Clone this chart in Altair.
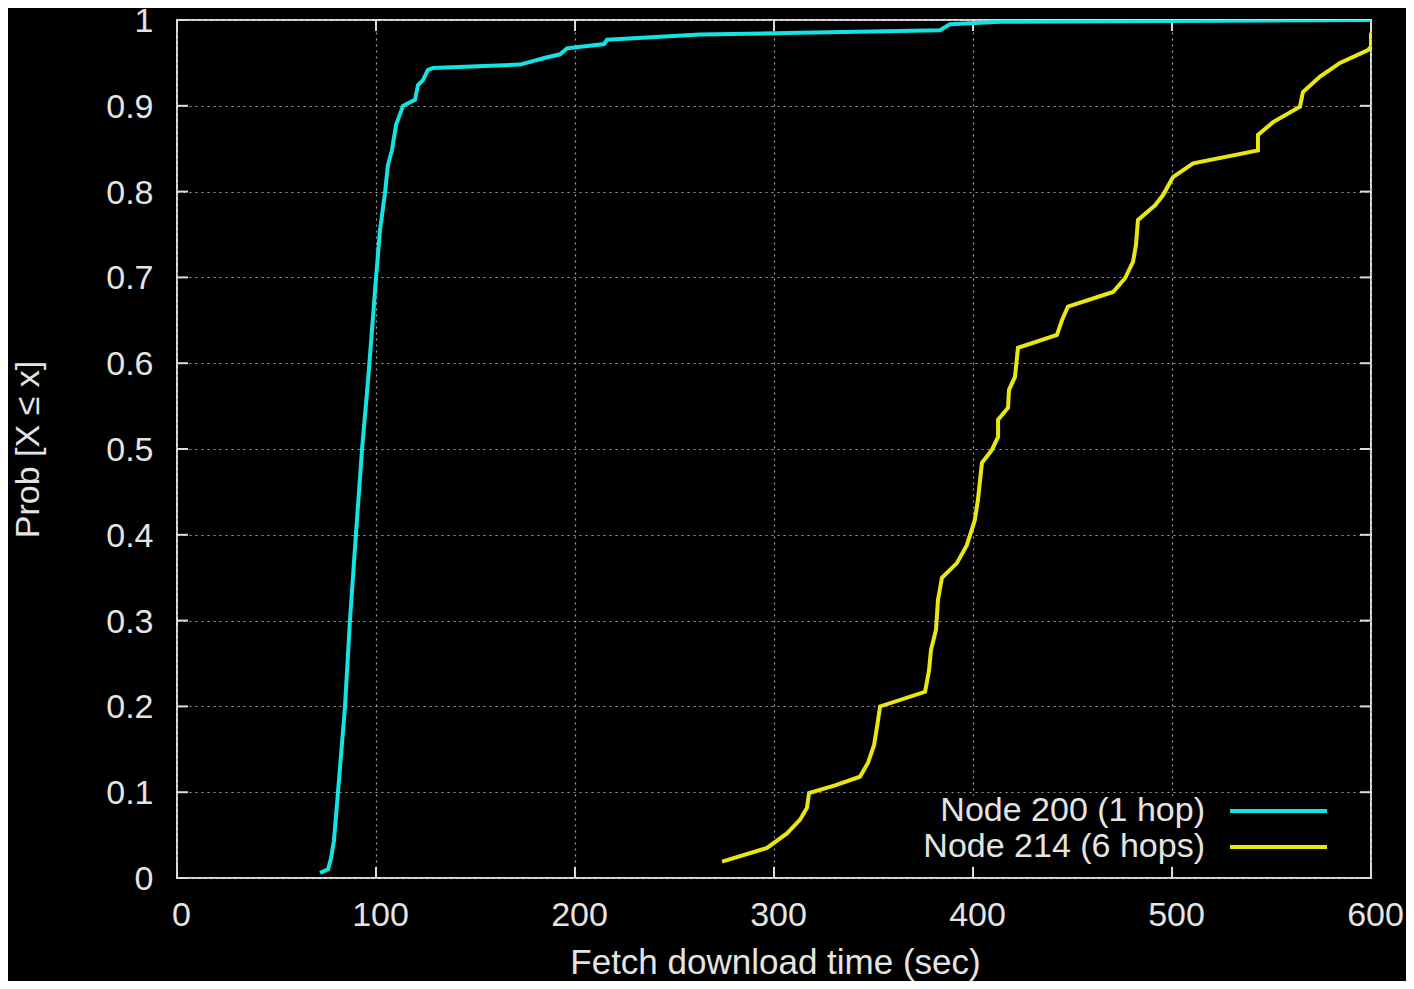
import altair as alt
import pandas as pd

# ---- data ----
node200_x = [71.9, 75.9, 77.4, 78.9, 80.9, 84.4, 86.9, 89.9, 93.0, 96.0, 98.0, 100.0, 102.0,
             104.5, 106.0, 108.0, 110.1, 113.6, 116.1, 119.6, 121.1, 123.6, 126.1, 128.6,
             172.4, 185.0, 192.5, 196.0, 214.6, 216.1, 262.8, 313.1, 383.4, 388.4, 413.6, 600.0]
node200_y = [0.006, 0.010, 0.023, 0.044, 0.100, 0.199, 0.300, 0.400, 0.500, 0.580, 0.639, 0.699,
             0.755, 0.798, 0.831, 0.848, 0.878, 0.900, 0.903, 0.907, 0.924, 0.930, 0.942, 0.944,
             0.948, 0.956, 0.960, 0.967, 0.972, 0.977, 0.983, 0.985, 0.988, 0.995, 0.998, 1.0]

node214_x = [273.9, 296.5, 306.5, 313.1, 316.6, 317.6, 330.7, 343.2, 347.2, 350.3, 352.3, 353.3,
             375.9, 377.9, 378.9, 381.4, 382.4, 384.4, 391.9, 396.9, 400.9, 402.5, 404.5, 409.5,
             412.6, 412.6, 417.6, 418.1, 421.1, 422.6, 442.2, 444.7, 447.7, 470.4, 476.4, 480.4,
             481.9, 482.9, 491.5, 495.5, 500.5, 510.6, 543.2, 543.2, 550.8, 564.3, 565.8, 574.4,
             584.4, 598.5, 600.0, 600.0]
node214_y = [0.019, 0.035, 0.052, 0.068, 0.082, 0.099, 0.108, 0.118, 0.134, 0.155, 0.184, 0.200,
             0.217, 0.242, 0.266, 0.289, 0.324, 0.350, 0.367, 0.388, 0.417, 0.441, 0.484, 0.499,
             0.514, 0.534, 0.548, 0.569, 0.584, 0.618, 0.633, 0.650, 0.666, 0.683, 0.699, 0.718,
             0.738, 0.767, 0.784, 0.796, 0.817, 0.833, 0.848, 0.866, 0.881, 0.899, 0.916, 0.934,
             0.950, 0.965, 0.969, 0.985]

series_names = ["Node 200 (1 hop)", "Node 214 (6 hops)"]
series_colors = ["#14e3e3", "#e8e810"]
x_ticks = [0, 100, 200, 300, 400, 500, 600]
y_ticks = [0, 0.1, 0.2, 0.3, 0.4, 0.5, 0.6, 0.7, 0.8, 0.9, 1]

W, H = 1194, 858
FONT = "Liberation Sans"
TXT = "#e4e4e4"

rows = []
for name, xs, ys in [(series_names[0], node200_x, node200_y), (series_names[1], node214_x, node214_y)]:
    for i, (a, b) in enumerate(zip(xs, ys)):
        rows.append({"series": name, "t": a, "p": b, "idx": i})
df = pd.DataFrame(rows)

xscale = alt.Scale(domain=[0, 600], nice=False, zero=False)
yscale = alt.Scale(domain=[0, 1], nice=False)

base = alt.Chart(df)

lines = base.mark_line(strokeWidth=4, clip=True).encode(
    x=alt.X("t:Q", scale=xscale, axis=alt.Axis(
        values=x_ticks, title="Fetch download time (sec)", grid=True, gridDash=[2, 4],
        gridColor="#a0a0a0", gridWidth=1.2, domain=False, ticks=False, labelPadding=20,
        labelOffset=4, labelFontSize=34, labelFont=FONT, labelColor=TXT, labelFlush=False,
        format="d",
        titleFontSize=35, titleFont=FONT, titleColor=TXT, titleFontWeight="normal",
        titleX=W / 2 + 1, titleY=95, titleBaseline="alphabetic")),
    y=alt.Y("p:Q", scale=yscale, axis=alt.Axis(
        values=y_ticks, title="Prob [X \u2264 x]", grid=True, gridDash=[2, 4],
        gridColor="#a0a0a0", gridWidth=1.2, domain=False, ticks=False, labelPadding=24,
        labelOffset=1.5, labelFontSize=34, labelFont=FONT, labelColor=TXT, labelFlush=False,
        labelExpr="datum.value == 0 ? '0' : datum.value == 1 ? '1' : format(datum.value, '.1f')",
        titleFontSize=34, titleFont=FONT, titleColor=TXT, titleFontWeight="normal",
        titleAngle=-90, titleX=-149, titleY=H / 2, titleBaseline="middle", titleAlign="center")),
    color=alt.Color("series:N", scale=alt.Scale(domain=series_names, range=series_colors), legend=None),
    order="idx:Q",
)

# inward tick marks (gnuplot style) on all four sides
xt = pd.DataFrame({"v": x_ticks})
yt = pd.DataFrame({"v": y_ticks})
tick_col = "#dcdcdc"
ticks_bottom = alt.Chart(xt).mark_rule(color=tick_col, strokeWidth=2).encode(
    x=alt.X("v:Q", scale=xscale), y=alt.value(H), y2=alt.value(H - 11))
ticks_top = alt.Chart(xt).mark_rule(color=tick_col, strokeWidth=2).encode(
    x=alt.X("v:Q", scale=xscale), y=alt.value(0), y2=alt.value(11))
ticks_left = alt.Chart(yt).mark_rule(color=tick_col, strokeWidth=2).encode(
    y=alt.Y("v:Q", scale=yscale), x=alt.value(0), x2=alt.value(11))
ticks_right = alt.Chart(yt).mark_rule(color=tick_col, strokeWidth=2).encode(
    y=alt.Y("v:Q", scale=yscale), x=alt.value(W), x2=alt.value(W - 11))

# legend backdrop (grid is interrupted behind the key)
leg_bg = alt.Chart(pd.DataFrame({"k": [0]})).mark_rect(color="black").encode(
    x=alt.value(722), x2=alt.value(1163), y=alt.value(776), y2=alt.value(846))

legend_layers = []
for i, (name, col) in enumerate(zip(series_names, series_colors)):
    d = pd.DataFrame({"series": [name]})
    yy = 791 + 36 * i
    legend_layers.append(alt.Chart(d).mark_text(
        align="right", baseline="middle", font=FONT, fontSize=34, color=TXT).encode(
        text="series:N", x=alt.value(1028), y=alt.value(yy)))
    legend_layers.append(alt.Chart(d).mark_rule(color=col, strokeWidth=4).encode(
        x=alt.value(1053), x2=alt.value(1150), y=alt.value(yy)))

chart = alt.layer(
    leg_bg, ticks_bottom, ticks_top, ticks_left, ticks_right, lines, *legend_layers
).properties(
    width=W, height=H,
    autosize=alt.AutoSizeParams(type="none"),
    padding={"left": 169, "top": 12, "right": 35, "bottom": 103},
    background="black",
).configure_view(
    stroke="#dcdcdc", strokeWidth=2, fill="black"
)

chart.save("out.html", embed_options={"renderer": "svg", "actions": False})
